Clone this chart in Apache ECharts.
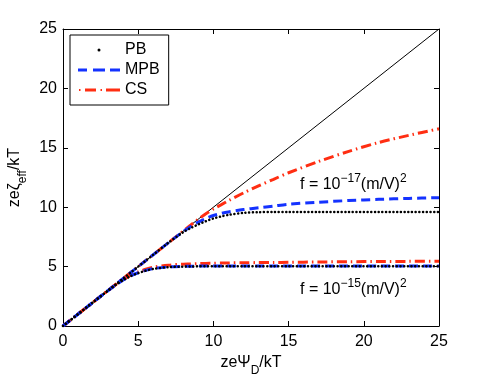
<!DOCTYPE html>
<html>
<head>
<meta charset="utf-8">
<script src="https://cdn.jsdelivr.net/npm/echarts@6/dist/echarts.min.js"></script>
<style>
  html, body { margin: 0; padding: 0; background: #fff; }
  #chart-container { width: 485px; height: 378px; }
</style>
</head>
<body>
<div id="chart-container"></div>
<script>
var xs = [0, 2, 3, 3.5, 4, 4.5, 5, 5.5, 6, 7, 8, 8.5, 9, 9.5, 10, 10.5, 11, 12, 13, 14, 15, 17, 19, 21, 23, 25];

// f = 1e-17 (m/V)^2
var pbHigh  = [0, 2, 3, 3.5, 4, 4.5, 5, 5.5, 6, 7, 7.9, 8.25, 8.55, 8.82, 9.05, 9.22, 9.35, 9.52, 9.58, 9.6, 9.6, 9.6, 9.6, 9.6, 9.6, 9.6];
var mpbHigh = [0, 2, 3, 3.5, 4, 4.5, 5, 5.5, 6, 7, 7.95, 8.38, 8.75, 9.05, 9.3, 9.47, 9.6, 9.8, 9.95, 10.1, 10.25, 10.42, 10.56, 10.66, 10.74, 10.8];
var csHigh  = [0, 2, 3, 3.5, 4, 4.5, 5, 5.5, 6, 7, 8.0, 8.5, 9.0, 9.45, 9.85, 10.2, 10.55, 11.2, 11.8, 12.35, 12.9, 13.85, 14.7, 15.45, 16.05, 16.6];

// f = 1e-15 (m/V)^2
var pbLow  = [0, 2, 2.98, 3.45, 3.85, 4.2, 4.45, 4.65, 4.8, 4.95, 5.0, 5.01, 5.02, 5.02, 5.02, 5.02, 5.02, 5.02, 5.02, 5.02, 5.02, 5.02, 5.02, 5.02, 5.02, 5.02];
var mpbLow = [0, 2, 2.98, 3.45, 3.87, 4.22, 4.48, 4.68, 4.83, 4.97, 5.02, 5.03, 5.04, 5.04, 5.05, 5.05, 5.05, 5.05, 5.05, 5.05, 5.05, 5.05, 5.05, 5.05, 5.05, 5.05];
var csLow  = [0, 2, 2.98, 3.47, 3.9, 4.28, 4.55, 4.78, 4.95, 5.12, 5.2, 5.22, 5.25, 5.27, 5.28, 5.3, 5.31, 5.32, 5.34, 5.35, 5.36, 5.39, 5.41, 5.43, 5.44, 5.45];

var diagonal = [0, 25];

var ticks = [0, 5, 10, 15, 20, 25];

function pairs(x, y) {
  return x.map(function (v, i) { return [v, y[i]]; });
}

var dom = document.getElementById('chart-container');
var myChart = echarts.init(dom, null, { renderer: 'canvas' });

var FONT = '"Liberation Sans", Arial, Helvetica, sans-serif';
var BLUE = '#1432ff';
var RED = '#ff2e12';

var pbStyle = { color: '#000', width: 2.5, type: [0.1, 3.6], cap: 'round' };
var mpbStyle = { color: BLUE, width: 3, type: [9, 5] };
var csStyle = { color: RED, width: 3, type: [10, 4, 1.5, 4] };

// legend glyphs (42 x 14 box)
var pbIcon = 'path://M0,0 M42,14 M19.5,7 a1.5,1.5 0 1,0 3,0 a1.5,1.5 0 1,0 -3,0 Z';
var mpbIcon = 'path://M0,0 M42,14 M0,5.5 h9 v3 h-9 Z M15,5.5 h12 v3 h-12 Z M32,5.5 h10 v3 h-10 Z';
var csIcon = 'path://M0,0 M42,14 M1,6 h1.5 v2 h-1.5 Z M7,5.5 h11 v3 h-11 Z M22.5,6 h1.5 v2 h-1.5 Z M28,5.5 h14 v3 h-14 Z';

var axisCommon = {
  type: 'value',
  min: ticks[0],
  max: ticks[ticks.length - 1],
  interval: 5,
  axisLine: { onZero: false, lineStyle: { color: '#000', width: 1 } },
  axisTick: { inside: true, length: 5, lineStyle: { color: '#000' } },
  splitLine: { show: false }
};

var option = {
  animation: false,
  textStyle: { fontFamily: FONT },
  grid: { left: 63, right: 46, top: 29, bottom: 52, containLabel: false, outerBoundsMode: 'none' },
  legend: {
    data: [
      { name: 'PB', icon: pbIcon, itemStyle: { color: '#000' } },
      { name: 'MPB', icon: mpbIcon, itemStyle: { color: BLUE } },
      { name: 'CS', icon: csIcon, itemStyle: { color: RED } }
    ],
    orient: 'vertical',
    left: 70,
    top: 35,
    itemWidth: 42,
    itemHeight: 14,
    itemGap: 4,
    padding: [7, 9, 7, 8],
    borderColor: '#000',
    borderWidth: 1,
    backgroundColor: '#fff',
    textStyle: { fontFamily: FONT, fontSize: 16, color: '#000', lineHeight: 14 }
  },
  xAxis: [
    Object.assign({}, axisCommon, {
      position: 'bottom',
      name: 'zeΨ{sub|D}/kT',
      nameLocation: 'middle',
      nameGap: 21,
      nameTextStyle: {
        fontFamily: FONT, fontSize: 16, color: '#000',
        rich: { sub: { fontFamily: FONT, fontSize: 12, color: '#000', verticalAlign: 'bottom', lineHeight: 28 } }
      },
      axisLabel: { fontFamily: FONT, fontSize: 16, color: '#000', margin: 8 }
    }),
    Object.assign({}, axisCommon, {
      position: 'top',
      axisLabel: { show: false }
    })
  ],
  yAxis: [
    Object.assign({}, axisCommon, {
      position: 'left',
      name: 'zeζ{sub|eff}/kT',
      nameLocation: 'middle',
      nameGap: 27,
      nameTextStyle: {
        fontFamily: FONT, fontSize: 16, color: '#000',
        rich: { sub: { fontFamily: FONT, fontSize: 12, color: '#000', verticalAlign: 'bottom', lineHeight: 28 } }
      },
      axisLabel: { fontFamily: FONT, fontSize: 16, color: '#000', margin: 6 }
    }),
    Object.assign({}, axisCommon, {
      position: 'right',
      axisLabel: { show: false }
    })
  ],
  graphic: [
    {
      type: 'text',
      left: 300,
      top: 173,
      style: {
        text: 'f = 10{sup|−17}(m/V){sup|2}',
        font: '16px ' + FONT,
        fill: '#000',
        rich: { sup: { fontFamily: FONT, fontSize: 12, fill: '#000', verticalAlign: 'top', lineHeight: 24 } }
      }
    },
    {
      type: 'text',
      left: 300,
      top: 278,
      style: {
        text: 'f = 10{sup|−15}(m/V){sup|2}',
        font: '16px ' + FONT,
        fill: '#000',
        rich: { sup: { fontFamily: FONT, fontSize: 12, fill: '#000', verticalAlign: 'top', lineHeight: 24 } }
      }
    }
  ],
  series: [
    {
      name: 'diagonal',
      type: 'line',
      data: pairs(diagonal, diagonal),
      showSymbol: false,
      lineStyle: { color: '#000', width: 1 },
      silent: true
    },
    {
      name: 'CS', type: 'line', data: pairs(xs, csHigh), smooth: 0.3,
      showSymbol: false, symbol: 'none', lineStyle: csStyle, itemStyle: { color: RED }
    },
    {
      name: 'CS', type: 'line', data: pairs(xs, csLow), smooth: 0.3,
      showSymbol: false, symbol: 'none', lineStyle: csStyle, itemStyle: { color: RED }
    },
    {
      name: 'MPB', type: 'line', data: pairs(xs, mpbHigh), smooth: 0.3,
      showSymbol: false, symbol: 'none', lineStyle: mpbStyle, itemStyle: { color: BLUE }
    },
    {
      name: 'MPB', type: 'line', data: pairs(xs, mpbLow), smooth: 0.3,
      showSymbol: false, symbol: 'none', lineStyle: mpbStyle, itemStyle: { color: BLUE }
    },
    {
      name: 'PB', type: 'line', data: pairs(xs, pbHigh), smooth: 0.3,
      showSymbol: false, symbol: 'none', lineStyle: pbStyle, itemStyle: { color: '#000' }
    },
    {
      name: 'PB', type: 'line', data: pairs(xs, pbLow), smooth: 0.3,
      showSymbol: false, symbol: 'none', lineStyle: pbStyle, itemStyle: { color: '#000' }
    }
  ]
};

myChart.setOption(option);
window.addEventListener('resize', myChart.resize);
</script>
</body>
</html>
